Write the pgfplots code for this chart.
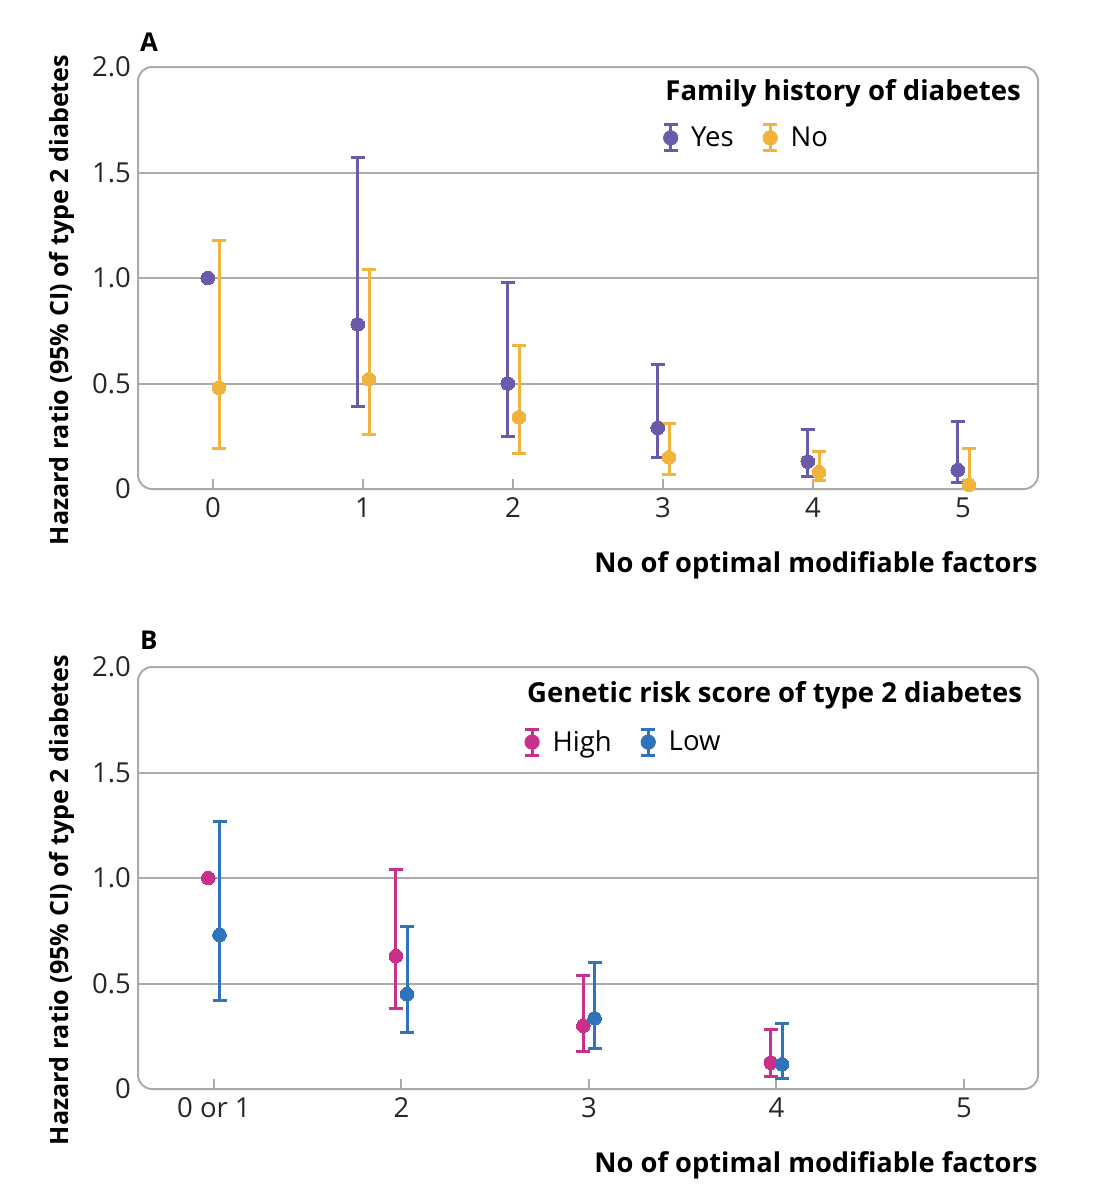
\documentclass[border=0pt]{standalone}
\usepackage{fontspec}
\setmainfont{Open Sans}
\usepackage{pgfplots}
\pgfplotsset{compat=1.18}
\usepackage{pgfplotstable}

\definecolor{cyes}{HTML}{6A5AA8}
\definecolor{cno}{HTML}{F0B43C}
\definecolor{chigh}{HTML}{C8308C}
\definecolor{clow}{HTML}{2F74B8}
\definecolor{cgrid}{HTML}{ABABAB}

% Panel A
\pgfplotstableread{
x y lo hi
1 0.78 0.39 1.57
2 0.50 0.25 0.98
3 0.29 0.15 0.59
4 0.13 0.06 0.28
5 0.09 0.03 0.32
}\tyes
\pgfplotstableread{
x y
0 1.00
}\tyesref
\pgfplotstableread{
x y lo hi
0 0.48 0.19 1.18
1 0.52 0.26 1.04
2 0.34 0.17 0.68
3 0.15 0.07 0.31
4 0.08 0.04 0.18
5 0.02 0.01 0.19
}\tno
% Panel B
\pgfplotstableread{
x y
0 1.00
}\thighref
\pgfplotstableread{
x y lo hi
1 0.63 0.38 1.04
2 0.30 0.18 0.54
3 0.125 0.06 0.28
}\thigh
\pgfplotstableread{
x y lo hi
0 0.73 0.42 1.27
1 0.45 0.27 0.77
2 0.335 0.19 0.60
3 0.117 0.05 0.31
}\tlow

\pgfplotsset{
  myax/.style={
    scale only axis, width=450bp, height=211bp,
    ymin=0, ymax=2,
    ytick={0,0.5,1,1.5,2}, yticklabels={0,0.5,1.0,1.5,2.0},
    minor ytick={0.5,1,1.5}, yminorgrids=true,
    minor grid style={cgrid, line width=1bp},
    ytick style={draw=none}, minor tick length=0pt,
    axis line style={draw=none},
    xtick style={cgrid, line width=1bp},
    tick align=inside, xtick pos=bottom,
    major tick length=5bp,
    tick label style={font=\fontsize{13.8}{16}\selectfont, text=black!85},
    xticklabel style={yshift=-1bp},
    clip=false,
    legend columns=2,
    legend style={draw=none, fill=none, font=\fontsize{13.8}{16}\selectfont,
      inner sep=0pt, column sep=0pt, row sep=0pt,
      /tikz/every odd column/.append style={column sep=4bp},
      /tikz/every even column/.append style={column sep=12bp}},
    legend cell align=left,
    legend image code/.code={
      \draw[line width=1.5bp] (0bp,-6.5bp) -- (0bp,6.5bp);
      \draw[line width=1.5bp] (-3.5bp,6.5bp) -- (3.5bp,6.5bp);
      \draw[line width=1.5bp] (-3.5bp,-6.5bp) -- (3.5bp,-6.5bp);
      \fill (0bp,0bp) circle (3.6bp);
    },
    ylabel style={font=\bfseries\fontsize{12.6}{15}\selectfont, rotate=0,
      at={(axis description cs:-0.0844,0.448)}, anchor=center},
    xlabel style={font=\bfseries\fontsize{13.7}{16}\selectfont, inner sep=0pt,
      at={(axis description cs:1,-0.182)}, anchor=east},
    ylabel={Hazard ratio (95\% CI) of type 2 diabetes},
    xlabel={No of optimal modifiable factors},
  },
  eb/.style={only marks, mark=*, mark size=3.4bp, color=#1,
    mark options={draw=#1, fill=#1, line width=0pt},
    error bars/.cd, y dir=both, y explicit,
    error bar style={line width=1.5bp, #1},
    error mark options={rotate=90, mark size=3.5bp, line width=1.5bp, #1}},
  pt/.style={only marks, mark=*, mark size=3.4bp, color=#1,
    mark options={draw=#1, fill=#1, line width=0pt}},
}

\begin{document}
\begin{tikzpicture}
\useasboundingbox (0,0) rectangle (546.5bp,-600bp);

% ---------------- Panel A ----------------
\begin{axis}[myax, at={(69bp,-244.5bp)}, anchor=south west,
  xmin=-0.5, xmax=5.5, xtick={0,1,2,3,4,5}, xticklabels={0,1,2,3,4,5},
  legend style={at={(axis description cs:0.582,0.832)}, anchor=west}]
  \draw[cgrid, line width=1bp, rounded corners=7bp] (rel axis cs:0,0) rectangle (rel axis cs:1,1);
  \addplot[eb=cyes] table[x expr=\thisrow{x}-0.035, y=y,
     y error plus expr=\thisrow{hi}-\thisrow{y},
     y error minus expr=\thisrow{y}-\thisrow{lo}] {\tyes};
  \addlegendentry{Yes}
  \addplot[eb=cno] table[x expr=\thisrow{x}+0.04, y=y,
     y error plus expr=\thisrow{hi}-\thisrow{y},
     y error minus expr=\thisrow{y}-\thisrow{lo}] {\tno};
  \addlegendentry{No}
  \addplot[pt=cyes, forget plot] table[x expr=\thisrow{x}-0.035, y=y] {\tyesref};
  \node[anchor=west, inner sep=0pt, font=\bfseries\fontsize{13.8}{16}\selectfont]
     at (axis description cs:0.5856,0.938) {Family history of diabetes};
  \node[anchor=west, inner sep=0pt, font=\bfseries\fontsize{13}{15}\selectfont]
     at (axis description cs:0.002,1.058) {A};
\end{axis}

% ---------------- Panel B ----------------
\begin{axis}[myax, at={(69bp,-544.5bp)}, anchor=south west,
  xmin=-0.405, xmax=4.395, xtick={0,1,2,3,4}, xticklabels={0 or 1,2,3,4,5},
  legend style={at={(axis description cs:0.428,0.822)}, anchor=west}]
  \draw[cgrid, line width=1bp, rounded corners=7bp] (rel axis cs:0,0) rectangle (rel axis cs:1,1);
  \addplot[eb=chigh] table[x expr=\thisrow{x}-0.03, y=y,
     y error plus expr=\thisrow{hi}-\thisrow{y},
     y error minus expr=\thisrow{y}-\thisrow{lo}] {\thigh};
  \addlegendentry{High}
  \addplot[eb=clow] table[x expr=\thisrow{x}+0.03, y=y,
     y error plus expr=\thisrow{hi}-\thisrow{y},
     y error minus expr=\thisrow{y}-\thisrow{lo}] {\tlow};
  \addlegendentry{Low}
  \addplot[pt=chigh, forget plot] table[x expr=\thisrow{x}-0.03, y=y] {\thighref};
  \node[anchor=west, inner sep=0pt, font=\bfseries\fontsize{13.8}{16}\selectfont]
     at (axis description cs:0.432,0.934) {Genetic risk score of type 2 diabetes};
  \node[anchor=west, inner sep=0pt, font=\bfseries\fontsize{13}{15}\selectfont]
     at (axis description cs:0.002,1.064) {B};
\end{axis}
\end{tikzpicture}
\end{document}
